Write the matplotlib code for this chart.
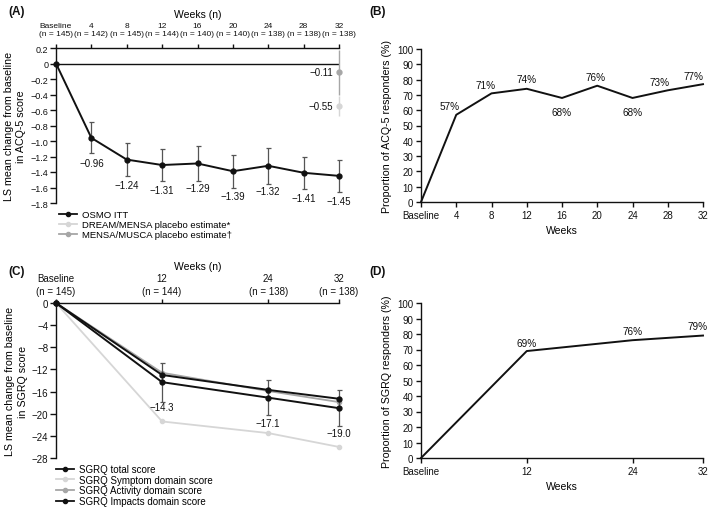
import matplotlib
matplotlib.use('Agg')
import matplotlib.pyplot as plt
from matplotlib.lines import Line2D
import numpy as np

plt.rcParams['font.family'] = ['Liberation Sans', 'DejaVu Sans']
plt.rcParams['axes.unicode_minus'] = True

# ---------------- data ----------------
acq_weeks = [0, 4, 8, 12, 16, 20, 24, 28, 32]
acq_tick_labels = ['Baseline\n(n = 145)', '4\n(n = 142)', '8\n(n = 145)', '12\n(n = 144)',
                   '16\n(n = 140)', '20\n(n = 140)', '24\n(n = 138)', '28\n(n = 138)',
                   '32\n(n = 138)']
acq_osmo = [0, -0.96, -1.24, -1.31, -1.29, -1.39, -1.32, -1.41, -1.45]
acq_osmo_err = [0, 0.20, 0.21, 0.21, 0.22, 0.21, 0.23, 0.21, 0.21]
dream_week = [32]
dream_val = [-0.55]
dream_err = [0.13]
musca_week = [32]
musca_val = [-0.11]
musca_err = [0.29]

acq_resp_weeks = [0, 4, 8, 12, 16, 20, 24, 28, 32]
acq_resp_ticks = ['Baseline', '4', '8', '12', '16', '20', '24', '28', '32']
acq_resp = [0, 57, 71, 74, 68, 76, 68, 73, 77]

sgrq_weeks = [0, 12, 24, 32]
sgrq_tick_labels = ['Baseline\n(n = 145)', '12\n(n = 144)', '24\n(n = 138)', '32\n(n = 138)']
sgrq_total = [0, -14.3, -17.1, -19.0]
sgrq_total_err = [0, 3.5, 3.2, 3.2]
sgrq_symptom = [0, -21.4, -23.5, -26.0]
sgrq_activity = [0, -12.6, -15.9, -17.9]
sgrq_impacts = [0, -13.0, -15.7, -17.3]

sgrq_resp_weeks = [0, 12, 24, 32]
sgrq_resp_ticks = ['Baseline', '12', '24', '32']
sgrq_resp = [0, 69, 76, 79]

# ---------------- style ----------------
BLACK = '#111111'
LGRAY = '#d6d6d6'
MGRAY = '#a6a6a6'
ERRC = '#555555'
W, H = 709, 510
MINUS = '\u2212'


def fmt(v, d):
    s = f"{abs(v):.{d}f}"
    return (MINUS + s) if v < 0 else s


def box(l, t, r, b):
    return [l / W, 1 - b / H, (r - l) / W, (b - t) / H]


fig = plt.figure(figsize=(7.09, 5.10), dpi=100)

# ================= Panel A =================
axA = fig.add_axes(box(56, 49, 339, 204))
axA.set_xlim(0, 32)
axA.set_ylim(-1.8, 0.2)
for s in ['right', 'bottom']:
    axA.spines[s].set_visible(False)
for s in ['left', 'top']:
    axA.spines[s].set_linewidth(1.0)
    axA.spines[s].set_color(BLACK)
axA.axhline(0, color=BLACK, lw=1.0, zorder=1)
axA.xaxis.tick_top()
axA.set_xticks(acq_weeks)
axA.set_xticklabels(acq_tick_labels, fontsize=6, linespacing=1.2)
axA.tick_params(axis='x', direction='out', length=3, width=1, pad=5, colors=BLACK)
yt = np.round(np.arange(-1.8, 0.21, 0.2), 1)
axA.set_yticks(yt)
axA.set_yticklabels(['0' if abs(v) < 1e-9 else fmt(v, 1) for v in yt], fontsize=6.5)
axA.tick_params(axis='y', direction='out', length=4, width=1, pad=1.5, colors=BLACK)
axA.xaxis.set_label_position('top')
axA.set_xlabel('Weeks (n)', fontsize=7.5, labelpad=3.5)
axA.set_ylabel('LS mean change from baseline\nin ACQ-5 score', fontsize=7.7, labelpad=3, linespacing=1.3)

axA.errorbar(acq_weeks[1:], acq_osmo[1:], yerr=acq_osmo_err[1:], fmt='none', ecolor=ERRC,
             elinewidth=0.9, capsize=1.8, capthick=0.9, zorder=2, clip_on=False)
axA.plot(acq_weeks, acq_osmo, color=BLACK, lw=1.4, marker='o', ms=3.5, zorder=3, clip_on=False)
axA.errorbar(musca_week, musca_val, yerr=musca_err, fmt='o', color=MGRAY, ecolor=MGRAY,
             ms=3.5, elinewidth=1.0, capsize=0, zorder=3, clip_on=False)
axA.errorbar(dream_week, dream_val, yerr=dream_err, fmt='o', color=LGRAY, ecolor=LGRAY,
             ms=3.5, elinewidth=1.0, capsize=0, zorder=3, clip_on=False)
for x, v in zip(acq_weeks[1:], acq_osmo[1:]):
    axA.annotate(fmt(v, 2), (x, v), xytext=(0, -18), textcoords='offset points',
                 ha='center', va='center', fontsize=7, color=BLACK, annotation_clip=False)
axA.annotate(fmt(musca_val[0], 2), (musca_week[0], musca_val[0]), xytext=(-4, 0),
             textcoords='offset points', ha='right', va='center', fontsize=7, color=BLACK)
axA.annotate(fmt(dream_val[0], 2), (dream_week[0], dream_val[0]), xytext=(-4, 0),
             textcoords='offset points', ha='right', va='center', fontsize=7, color=BLACK)

hA = [Line2D([], [], color=BLACK, marker='o', ms=3, lw=1.3),
      Line2D([], [], color=LGRAY, marker='o', ms=3, lw=1.3),
      Line2D([], [], color=MGRAY, marker='o', ms=3, lw=1.3)]
axA.legend(hA, ['OSMO ITT', 'DREAM/MENSA placebo estimate*', 'MENSA/MUSCA placebo estimate\u2020'],
           loc='upper left', bbox_to_anchor=(0.012, -0.045), frameon=False, fontsize=6.8,
           handlelength=1.9, handletextpad=0.5, labelspacing=0.12, borderpad=0, borderaxespad=0)

# ================= Panel B =================
axB = fig.add_axes(box(421, 50, 703, 203))
axB.set_xlim(0, 32)
axB.set_ylim(0, 100)
for s in ['right', 'top']:
    axB.spines[s].set_visible(False)
for s in ['left', 'bottom']:
    axB.spines[s].set_linewidth(1.0)
    axB.spines[s].set_color(BLACK)
axB.set_xticks(acq_resp_weeks)
axB.set_xticklabels(acq_resp_ticks, fontsize=7)
axB.set_yticks(range(0, 101, 10))
axB.tick_params(axis='both', direction='out', length=3.5, width=1, labelsize=7, pad=2, colors=BLACK)
axB.set_xlabel('Weeks', fontsize=7.5, labelpad=4)
axB.set_ylabel('Proportion of ACQ-5 responders (%)', fontsize=7.7, labelpad=4)
axB.plot(acq_resp_weeks, acq_resp, color=BLACK, lw=1.4, clip_on=False)
offB = [None, (-5, 2.5), (-4, 2.5), (0, 3.5), (0, -10), (-1, 3), (0, -10), (-6, 2.5), (-7, 2.5)]
for x, v, o in zip(acq_resp_weeks, acq_resp, offB):
    if o is None:
        continue
    axB.annotate(f'{v}%', (x, v), xytext=o, textcoords='offset points', ha='center',
                 va='bottom' if o[1] > 0 else 'center', fontsize=7.2, color=BLACK,
                 annotation_clip=False)

# ================= Panel C =================
axC = fig.add_axes(box(56, 304, 339, 459))
axC.set_xlim(0, 32)
axC.set_ylim(-28, 0)
for s in ['right', 'bottom']:
    axC.spines[s].set_visible(False)
for s in ['left', 'top']:
    axC.spines[s].set_linewidth(1.0)
    axC.spines[s].set_color(BLACK)
axC.xaxis.tick_top()
axC.set_xticks(sgrq_weeks)
axC.set_xticklabels(sgrq_tick_labels, fontsize=7, linespacing=1.4)
axC.tick_params(axis='x', direction='out', length=3, width=1, pad=2, colors=BLACK)
ytc = list(range(-28, 1, 4))
axC.set_yticks(ytc)
axC.set_yticklabels([fmt(v, 0) if v != 0 else '0' for v in ytc], fontsize=7)
axC.tick_params(axis='y', direction='out', length=4, width=1, pad=1.5, colors=BLACK)
axC.xaxis.set_label_position('top')
axC.set_xlabel('Weeks (n)', fontsize=7.5, labelpad=3)
axC.set_ylabel('LS mean change from baseline\nin SGRQ score', fontsize=7.7, labelpad=3, linespacing=1.3)

axC.plot(sgrq_weeks, sgrq_symptom, color=LGRAY, lw=1.3, marker='o', ms=3, zorder=2, clip_on=False)
axC.plot(sgrq_weeks, sgrq_activity, color=MGRAY, lw=1.3, marker='o', ms=3, zorder=2, clip_on=False)
axC.plot(sgrq_weeks, sgrq_impacts, color=BLACK, lw=1.4, marker='o', ms=3.5, zorder=3, clip_on=False)
axC.errorbar(sgrq_weeks[1:], sgrq_total[1:], yerr=sgrq_total_err[1:], fmt='none', ecolor=ERRC,
             elinewidth=0.9, capsize=1.8, capthick=0.9, zorder=2, clip_on=False)
axC.plot(sgrq_weeks, sgrq_total, color=BLACK, lw=1.4, marker='o', ms=3.5, zorder=4, clip_on=False)
for x, v in zip(sgrq_weeks[1:], sgrq_total[1:]):
    axC.annotate(fmt(v, 1), (x, v), xytext=(0, -18), textcoords='offset points',
                 ha='center', va='center', fontsize=7, color=BLACK, annotation_clip=False)

hC = [Line2D([], [], color=BLACK, marker='o', ms=3, lw=1.3),
      Line2D([], [], color=LGRAY, marker='o', ms=3, lw=1.3),
      Line2D([], [], color=MGRAY, marker='o', ms=3, lw=1.3),
      Line2D([], [], color=BLACK, marker='o', ms=3, lw=1.3)]
axC.legend(hC, ['SGRQ total score', 'SGRQ Symptom domain score', 'SGRQ Activity domain score',
                'SGRQ Impacts domain score'],
           loc='upper left', bbox_to_anchor=(0.0, -0.04), frameon=False, fontsize=7,
           handlelength=1.9, handletextpad=0.5, labelspacing=0.06, borderpad=0, borderaxespad=0)

# ================= Panel D =================
axD = fig.add_axes(box(421, 304, 703, 459))
axD.set_xlim(0, 32)
axD.set_ylim(0, 100)
for s in ['right', 'top']:
    axD.spines[s].set_visible(False)
for s in ['left', 'bottom']:
    axD.spines[s].set_linewidth(1.0)
    axD.spines[s].set_color(BLACK)
axD.set_xticks(sgrq_resp_weeks)
axD.set_xticklabels(sgrq_resp_ticks, fontsize=7)
axD.set_yticks(range(0, 101, 10))
axD.tick_params(axis='both', direction='out', length=3.5, width=1, labelsize=7, pad=2, colors=BLACK)
axD.set_xlabel('Weeks', fontsize=7.5, labelpad=4)
axD.set_ylabel('Proportion of SGRQ responders (%)', fontsize=7.7, labelpad=4)
axD.plot(sgrq_resp_weeks, sgrq_resp, color=BLACK, lw=1.4, clip_on=False)
offD = [None, (0, 2.5), (0, 3), (-4, 3)]
for x, v, o in zip(sgrq_resp_weeks, sgrq_resp, offD):
    if o is None:
        continue
    axD.annotate(f'{v}%', (x, v), xytext=o, textcoords='offset points', ha='center',
                 va='bottom', fontsize=7.2, color=BLACK, annotation_clip=False)

# panel letters
for lbl, (x, y) in zip(['(A)', '(B)', '(C)', '(D)'], [(8, 12), (369, 12), (8, 272), (369, 272)]):
    fig.text(x / W, 1 - y / H, lbl, fontsize=8.5, fontweight='bold', ha='left', va='center', color=BLACK)

fig.savefig('out.png', dpi=100)
